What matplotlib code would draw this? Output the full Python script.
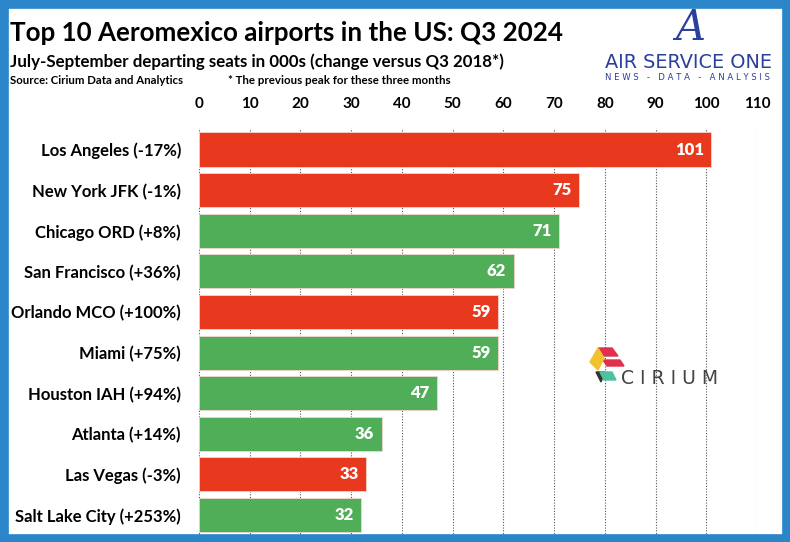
import matplotlib.pyplot as plt
from matplotlib.patches import Rectangle, Polygon

airports = ['Los Angeles (-17%)', 'New York JFK (-1%)', 'Chicago ORD (+8%)',
            'San Francisco (+36%)', 'Orlando MCO (+100%)', 'Miami (+75%)',
            'Houston IAH (+94%)', 'Atlanta (+14%)', 'Las Vegas (-3%)',
            'Salt Lake City (+253%)']
seats = [101, 75, 71, 62, 59, 59, 47, 36, 33, 32]
change = [-17, -1, 8, 36, 100, 75, 94, 14, -3, 253]
xticks = list(range(0, 111, 10))

RED = '#e8391f'
GREEN = '#50ad58'
plt.rcParams['font.family'] = ['Lato', 'DejaVu Sans']

fig = plt.figure(figsize=(7.9, 5.42), dpi=100)
renderer = fig.canvas.get_renderer()


def fit(t, width_px):
    # shrink/grow a text so it spans the given pixel width
    w = t.get_window_extent(renderer).width
    t.set_fontsize(t.get_fontsize() * width_px / w)
    return t


# blue frame
fig.patches.append(Rectangle((0, 0), 1, 1, transform=fig.transFigure,
                             fill=False, edgecolor='#2a85c9', linewidth=12, zorder=10))

ax = fig.add_axes([199 / 790, 0, 558 / 790, 414 / 542])
colors = [RED if c < 0 or c == 100 else GREEN for c in change]
y = range(len(airports))
bars = ax.barh(y, seats, height=0.84, color=colors, edgecolor='#f4d6d0', linewidth=0.6, zorder=2)
for b, v in zip(bars, seats):
    ax.text(v - 1.5, b.get_y() + b.get_height() / 2, str(v), ha='right', va='center',
            color='white', fontsize=12, fontweight='heavy', zorder=3)

ax.set_xlim(0, 110)
ax.set_ylim(9.665, -0.53)
ax.set_xticks(xticks)
ax.xaxis.tick_top()
ax.tick_params(axis='x', length=0, labelsize=11, pad=12)
for lbl in ax.get_xticklabels():
    lbl.set_fontweight('bold')
ax.set_yticks(list(y))
ax.set_yticklabels(airports, fontsize=12, fontweight='bold')
ax.tick_params(axis='y', length=0, pad=13)
ax.grid(axis='x', color='#555555', linestyle=(0, (1, 1.5)), linewidth=0.8, zorder=1)
for s in ax.spines.values():
    s.set_visible(False)

fit(fig.text(10 / 790, 1 - 33 / 542, 'Top 10 Aeromexico airports in the US: Q3 2024',
             fontsize=19, fontweight='bold', va='center'), 551)
fit(fig.text(10 / 790, 1 - 62 / 542, 'July-September departing seats in 000s (change versus Q3 2018*)',
             fontsize=12.5, fontweight='bold', va='center'), 495)
fit(fig.text(10 / 790, 1 - 81 / 542, 'Source: Cirium Data and Analytics',
             fontsize=8.5, fontweight='bold', va='center'), 172)
fit(fig.text(228 / 790, 1 - 81 / 542, '* The previous peak for these three months',
             fontsize=8.5, fontweight='bold', va='center'), 221)

# Air Service One logo
fig.text(690 / 790, 1 - 28 / 542, 'A', fontsize=30, style='italic', color='#2b3f9c',
         ha='center', va='center', family='DejaVu Serif')
fit(fig.text(605 / 790, 1 - 63 / 542, 'AIR SERVICE ONE', fontsize=15, color='#2b3f9c',
             va='center', family='DejaVu Sans'), 167)
fit(fig.text(605 / 790, 1 - 78 / 542, 'N E W S   -   D A T A   -   A N A L Y S I S', fontsize=4.5,
             color='#2b3f9c', va='center', family='DejaVu Sans'), 165)


# Cirium logo
def fig_poly(pts, color):
    fig.patches.append(Polygon([(px / 790, 1 - py / 542) for px, py in pts],
                               closed=True, transform=fig.transFigure, color=color, zorder=5))


fig_poly([(598, 348), (612, 348), (618, 356), (604, 356)], '#e0304e')
fig_poly([(603, 360), (620, 360), (624, 366), (607, 366)], '#e0304e')
fig_poly([(598, 348), (590, 362), (598, 370), (604, 358)], '#f2c12e')
fig_poly([(596, 372), (605, 372), (601, 382)], '#333333')
fig_poly([(600, 372), (612, 372), (616, 380), (604, 380)], '#4fc1a2')
fit(fig.text(621 / 790, 1 - 378 / 542, 'C I R I U M', fontsize=17, color='#444444',
             va='center', family='DejaVu Sans'), 97)

fig.savefig('out.png', dpi=100)
